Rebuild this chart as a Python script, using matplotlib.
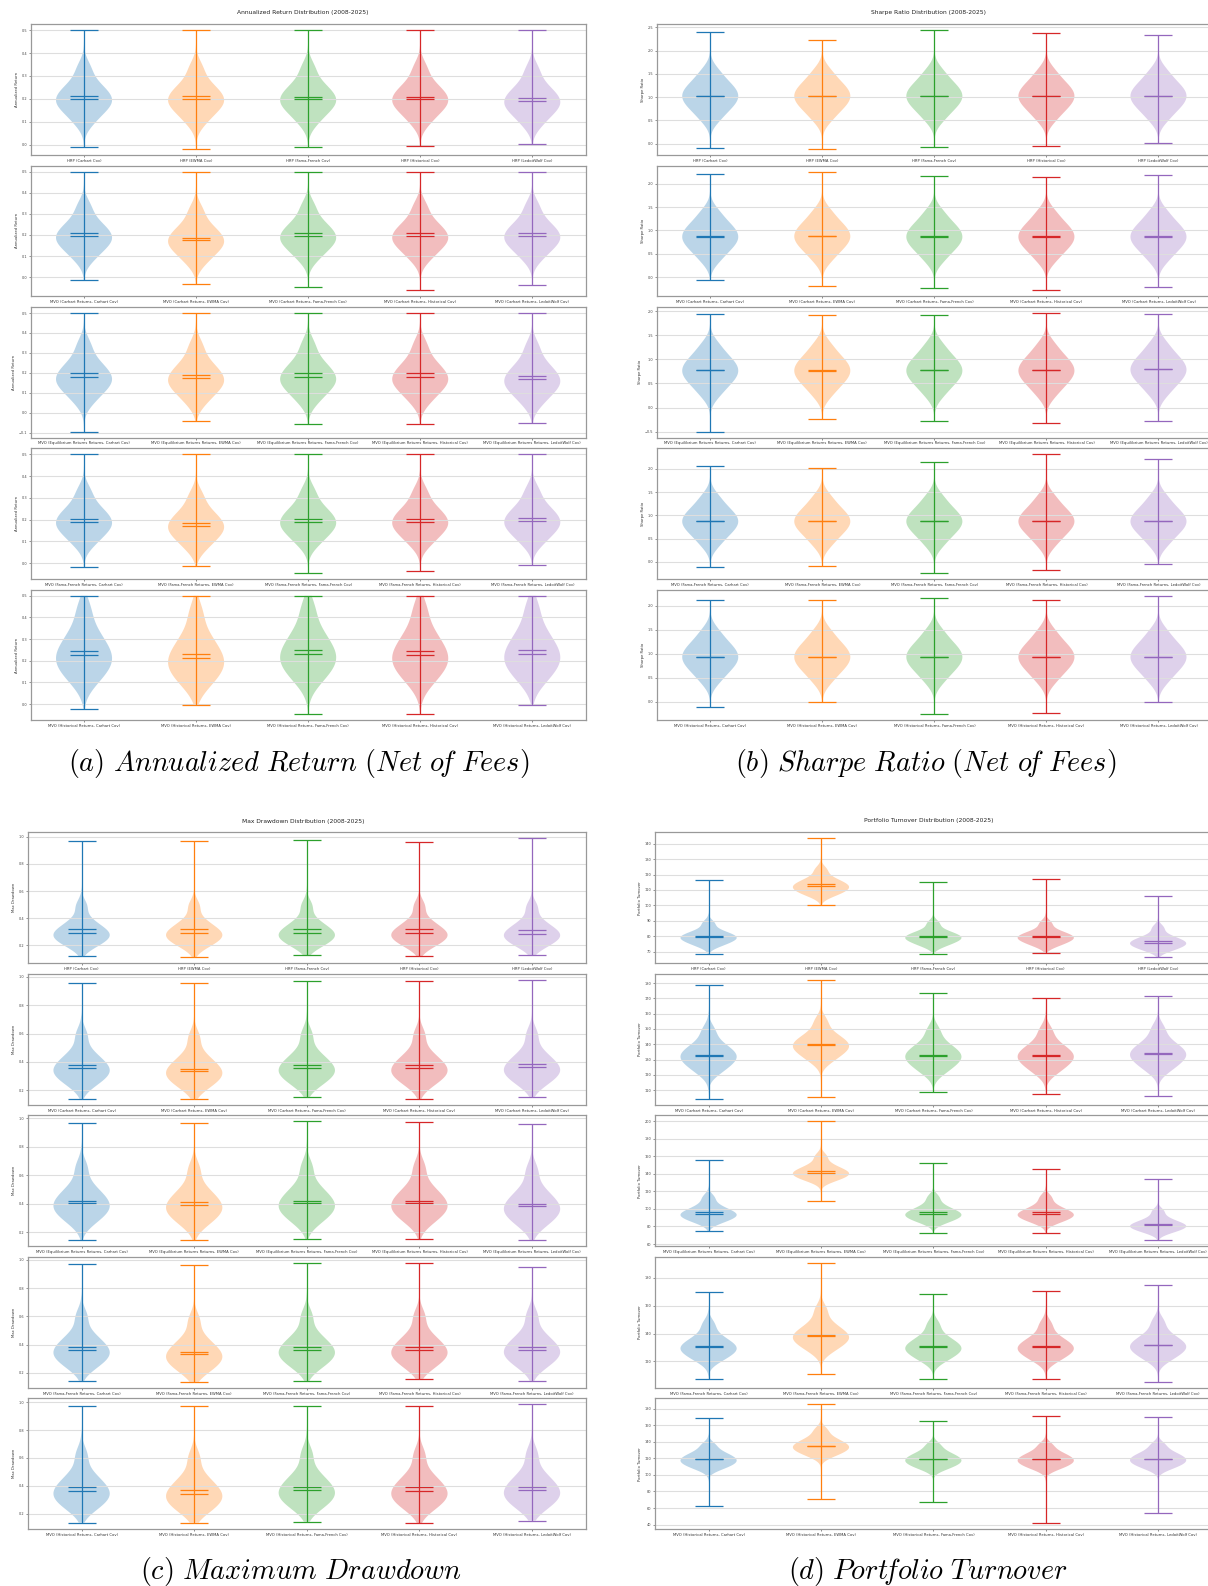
import numpy as np
import matplotlib
matplotlib.use('Agg')
import matplotlib.pyplot as plt
from matplotlib import mlab
from matplotlib.ticker import MultipleLocator

plt.rcParams['mathtext.fontset'] = 'cm'

# ---- labels ----
COV_NAMES = ['Carhart Cov', 'EWMA Cov', 'Fama-French Cov', 'Historical Cov', 'LedoitWolf Cov']
ROW_PREFIXES = ['HRP (', 'MVO (Carhart Returns, ', 'MVO (Equilibrium Returns Returns, ',
                'MVO (Fama-French Returns, ', 'MVO (Historical Returns, ']
COLORS = ['#1f77b4', '#ff7f0e', '#2ca02c', '#d62728', '#9467bd']

# ---- (a) annualized return ----
RET_MIN = [[-0.012, -0.019, -0.012, -0.006, 0.003],
           [-0.014, -0.033, -0.047, -0.062, -0.038],
           [-0.095, -0.044, -0.059, -0.059, -0.052],
           [-0.018, -0.014, -0.046, -0.037, -0.009],
           [-0.022, -0.003, -0.046, -0.048, -0.003]]
RET_MAX = [[0.5] * 5 for _ in range(5)]
RET_MEAN = [[0.212, 0.213, 0.210, 0.210, 0.203],
            [0.207, 0.185, 0.207, 0.207, 0.207],
            [0.197, 0.191, 0.197, 0.197, 0.182],
            [0.203, 0.183, 0.203, 0.203, 0.206],
            [0.246, 0.232, 0.248, 0.246, 0.252]]
RET_MEDIAN = [[0.199, 0.199, 0.199, 0.199, 0.190],
              [0.193, 0.176, 0.193, 0.193, 0.195],
              [0.178, 0.173, 0.178, 0.178, 0.168],
              [0.191, 0.172, 0.191, 0.191, 0.194],
              [0.228, 0.211, 0.232, 0.228, 0.232]]
# mid-decile values (5th, 15th, ..., 95th percentile)
RET_Q = [
    [[0.095, 0.135, 0.158, 0.176, 0.191, 0.207, 0.224, 0.245, 0.275, 0.335],
     [0.095, 0.135, 0.158, 0.176, 0.191, 0.207, 0.224, 0.245, 0.275, 0.335],
     [0.095, 0.135, 0.158, 0.176, 0.191, 0.207, 0.224, 0.245, 0.275, 0.335],
     [0.095, 0.135, 0.158, 0.176, 0.191, 0.207, 0.224, 0.245, 0.275, 0.335],
     [0.086, 0.126, 0.149, 0.167, 0.182, 0.198, 0.215, 0.236, 0.266, 0.326]],
    [[0.085, 0.125, 0.150, 0.168, 0.184, 0.201, 0.219, 0.241, 0.273, 0.335],
     [0.068, 0.108, 0.133, 0.151, 0.167, 0.184, 0.202, 0.224, 0.256, 0.318],
     [0.085, 0.125, 0.150, 0.168, 0.184, 0.201, 0.219, 0.241, 0.273, 0.335],
     [0.085, 0.125, 0.150, 0.168, 0.184, 0.201, 0.219, 0.241, 0.273, 0.335],
     [0.087, 0.127, 0.152, 0.170, 0.186, 0.203, 0.221, 0.243, 0.275, 0.337]],
    [[0.055, 0.100, 0.128, 0.148, 0.166, 0.185, 0.206, 0.232, 0.268, 0.340],
     [0.050, 0.095, 0.123, 0.143, 0.161, 0.180, 0.201, 0.227, 0.263, 0.335],
     [0.055, 0.100, 0.128, 0.148, 0.166, 0.185, 0.206, 0.232, 0.268, 0.340],
     [0.055, 0.100, 0.128, 0.148, 0.166, 0.185, 0.206, 0.232, 0.268, 0.340],
     [0.045, 0.090, 0.118, 0.138, 0.156, 0.175, 0.196, 0.222, 0.258, 0.330]],
    [[0.085, 0.123, 0.148, 0.166, 0.182, 0.199, 0.217, 0.239, 0.270, 0.330],
     [0.066, 0.104, 0.129, 0.147, 0.163, 0.180, 0.198, 0.220, 0.251, 0.311],
     [0.085, 0.123, 0.148, 0.166, 0.182, 0.199, 0.217, 0.239, 0.270, 0.330],
     [0.085, 0.123, 0.148, 0.166, 0.182, 0.199, 0.217, 0.239, 0.270, 0.330],
     [0.088, 0.126, 0.151, 0.169, 0.185, 0.202, 0.220, 0.242, 0.273, 0.333]],
    [[0.095, 0.140, 0.170, 0.193, 0.215, 0.240, 0.268, 0.302, 0.350, 0.440],
     [0.080, 0.124, 0.153, 0.176, 0.198, 0.222, 0.250, 0.284, 0.332, 0.425],
     [0.099, 0.144, 0.174, 0.197, 0.219, 0.244, 0.272, 0.306, 0.354, 0.444],
     [0.095, 0.140, 0.170, 0.193, 0.215, 0.240, 0.268, 0.302, 0.350, 0.440],
     [0.099, 0.144, 0.174, 0.197, 0.219, 0.244, 0.272, 0.306, 0.354, 0.444]],
]

# ---- (b) sharpe ratio ----
SR_MIN = [[-0.10, -0.11, -0.06, -0.04, 0.01],
          [-0.07, -0.185, -0.24, -0.28, -0.21],
          [-0.50, -0.23, -0.28, -0.33, -0.27],
          [-0.11, -0.09, -0.24, -0.17, -0.05],
          [-0.10, -0.01, -0.26, -0.23, -0.01]]
SR_MAX = [[2.40, 2.22, 2.44, 2.37, 2.33],
          [2.20, 2.26, 2.16, 2.14, 2.19],
          [1.94, 1.92, 1.92, 1.96, 1.94],
          [2.06, 2.02, 2.15, 2.31, 2.22],
          [2.12, 2.12, 2.17, 2.12, 2.21]]
SR_MEAN = [[1.036, 1.036, 1.036, 1.036, 1.036],
           [0.874, 0.886, 0.874, 0.874, 0.874],
           [0.776, 0.772, 0.776, 0.776, 0.796],
           [0.881, 0.886, 0.881, 0.881, 0.881],
           [0.946, 0.946, 0.946, 0.946, 0.946]]
SR_MEDIAN = [[1.030, 1.030, 1.030, 1.030, 1.030],
             [0.868, 0.880, 0.868, 0.868, 0.868],
             [0.770, 0.766, 0.770, 0.770, 0.790],
             [0.875, 0.880, 0.875, 0.875, 0.875],
             [0.940, 0.940, 0.940, 0.940, 0.940]]
SR_Q = [
    [[0.52, 0.71, 0.82, 0.91, 0.99, 1.07, 1.15, 1.24, 1.36, 1.56]] * 5,
    [[0.36, 0.55, 0.66, 0.75, 0.83, 0.91, 0.99, 1.08, 1.20, 1.40],
     [0.37, 0.56, 0.67, 0.76, 0.84, 0.92, 1.00, 1.09, 1.21, 1.41],
     [0.36, 0.55, 0.66, 0.75, 0.83, 0.91, 0.99, 1.08, 1.20, 1.40],
     [0.36, 0.55, 0.66, 0.75, 0.83, 0.91, 0.99, 1.08, 1.20, 1.40],
     [0.36, 0.55, 0.66, 0.75, 0.83, 0.91, 0.99, 1.08, 1.20, 1.40]],
    [[0.26, 0.45, 0.56, 0.65, 0.73, 0.81, 0.89, 0.98, 1.10, 1.30],
     [0.26, 0.45, 0.56, 0.65, 0.73, 0.81, 0.89, 0.98, 1.10, 1.30],
     [0.26, 0.45, 0.56, 0.65, 0.73, 0.81, 0.89, 0.98, 1.10, 1.30],
     [0.26, 0.45, 0.56, 0.65, 0.73, 0.81, 0.89, 0.98, 1.10, 1.30],
     [0.28, 0.47, 0.58, 0.67, 0.75, 0.83, 0.91, 1.00, 1.12, 1.32]],
    [[0.37, 0.56, 0.67, 0.76, 0.84, 0.91, 0.99, 1.08, 1.20, 1.40]] * 5,
    [[0.43, 0.62, 0.73, 0.82, 0.90, 0.98, 1.06, 1.15, 1.27, 1.47]] * 5,
]

# ---- (c) max drawdown ----
DD_MIN = [[0.119, 0.111, 0.126, 0.119, 0.126],
          [0.138, 0.138, 0.152, 0.138, 0.152],
          [0.143, 0.146, 0.153, 0.153, 0.146],
          [0.143, 0.136, 0.143, 0.157, 0.143],
          [0.135, 0.135, 0.142, 0.130, 0.150]]
DD_MAX = [[0.968, 0.968, 0.975, 0.966, 0.990],
          [0.957, 0.955, 0.970, 0.970, 0.980],
          [0.970, 0.965, 0.980, 0.972, 0.958],
          [0.971, 0.962, 0.979, 0.974, 0.950],
          [0.971, 0.971, 0.971, 0.971, 0.986]]
DD_MEAN = [[0.318, 0.318, 0.318, 0.318, 0.310],
           [0.376, 0.352, 0.376, 0.376, 0.382],
           [0.422, 0.412, 0.422, 0.422, 0.400],
           [0.381, 0.350, 0.381, 0.381, 0.386],
           [0.389, 0.373, 0.389, 0.389, 0.394]]
DD_MEDIAN = [[0.288, 0.288, 0.288, 0.288, 0.286],
             [0.357, 0.338, 0.357, 0.357, 0.360],
             [0.406, 0.393, 0.406, 0.406, 0.384],
             [0.360, 0.331, 0.360, 0.360, 0.364],
             [0.363, 0.344, 0.368, 0.363, 0.368]]
DD_Q = [
    [[0.185, 0.220, 0.243, 0.262, 0.279, 0.297, 0.318, 0.345, 0.390, 0.490],
     [0.185, 0.220, 0.243, 0.262, 0.279, 0.297, 0.318, 0.345, 0.390, 0.490],
     [0.185, 0.220, 0.243, 0.262, 0.279, 0.297, 0.318, 0.345, 0.390, 0.490],
     [0.185, 0.220, 0.243, 0.262, 0.279, 0.297, 0.318, 0.345, 0.390, 0.490],
     [0.184, 0.218, 0.241, 0.260, 0.277, 0.295, 0.315, 0.342, 0.386, 0.482]],
    [[0.228, 0.272, 0.300, 0.322, 0.343, 0.366, 0.392, 0.425, 0.475, 0.590],
     [0.209, 0.253, 0.281, 0.303, 0.324, 0.347, 0.373, 0.406, 0.456, 0.571],
     [0.228, 0.272, 0.300, 0.322, 0.343, 0.366, 0.392, 0.425, 0.475, 0.590],
     [0.228, 0.272, 0.300, 0.322, 0.343, 0.366, 0.392, 0.425, 0.475, 0.590],
     [0.231, 0.275, 0.303, 0.325, 0.346, 0.369, 0.395, 0.428, 0.478, 0.593]],
    [[0.262, 0.310, 0.341, 0.366, 0.390, 0.416, 0.445, 0.480, 0.535, 0.655],
     [0.249, 0.297, 0.328, 0.353, 0.377, 0.403, 0.432, 0.467, 0.522, 0.642],
     [0.262, 0.310, 0.341, 0.366, 0.390, 0.416, 0.445, 0.480, 0.535, 0.655],
     [0.262, 0.310, 0.341, 0.366, 0.390, 0.416, 0.445, 0.480, 0.535, 0.655],
     [0.240, 0.288, 0.319, 0.344, 0.368, 0.394, 0.423, 0.458, 0.513, 0.633]],
    [[0.228, 0.273, 0.302, 0.325, 0.347, 0.371, 0.398, 0.432, 0.483, 0.600],
     [0.199, 0.244, 0.273, 0.296, 0.318, 0.342, 0.369, 0.403, 0.454, 0.571],
     [0.228, 0.273, 0.302, 0.325, 0.347, 0.371, 0.398, 0.432, 0.483, 0.600],
     [0.228, 0.273, 0.302, 0.325, 0.347, 0.371, 0.398, 0.432, 0.483, 0.600],
     [0.232, 0.277, 0.306, 0.329, 0.351, 0.375, 0.402, 0.436, 0.487, 0.604]],
    [[0.225, 0.270, 0.300, 0.325, 0.350, 0.376, 0.405, 0.442, 0.497, 0.622],
     [0.206, 0.251, 0.281, 0.306, 0.331, 0.357, 0.386, 0.423, 0.478, 0.603],
     [0.230, 0.275, 0.305, 0.330, 0.355, 0.381, 0.410, 0.447, 0.502, 0.627],
     [0.225, 0.270, 0.300, 0.325, 0.350, 0.376, 0.405, 0.442, 0.497, 0.622],
     [0.230, 0.275, 0.305, 0.330, 0.355, 0.381, 0.410, 0.447, 0.502, 0.627]],
]

# ---- (d) portfolio turnover ----
TO_MIN = [[68.7, 100.0, 68.5, 68.9, 66.4],
          [104.3, 105.6, 109.1, 107.4, 106.3],
          [74.5, 109.3, 72.2, 73.0, 64.2],
          [107.0, 110.8, 107.0, 107.0, 105.3],
          [63.0, 71.5, 67.9, 41.6, 54.5]]
TO_MAX = [[116.6, 143.5, 114.9, 116.8, 105.8],
          [178.9, 182.2, 173.6, 170.1, 171.6],
          [156.0, 200.0, 152.6, 145.0, 134.2],
          [169.8, 190.8, 168.3, 170.3, 174.9],
          [169.1, 185.2, 165.1, 170.7, 169.5]]
TO_MEAN = [[80.2, 113.7, 80.4, 80.2, 77.2],
           [133.1, 139.9, 133.1, 133.1, 134.2],
           [96.3, 143.4, 96.3, 96.3, 82.9],
           [130.7, 138.6, 130.7, 130.7, 131.8],
           [118.9, 135.0, 118.9, 118.9, 119.3]]
TO_MEDIAN = [[79.3, 112.4, 79.3, 79.3, 75.9],
             [132.5, 139.5, 132.5, 132.5, 133.8],
             [94.4, 141.5, 94.4, 94.4, 81.3],
             [130.2, 138.2, 130.2, 130.2, 131.4],
             [118.6, 134.7, 118.6, 118.6, 119.0]]
TO_Q = [
    [[73.5, 75.5, 76.8, 78.0, 79.0, 79.8, 80.8, 82.0, 84.0, 88.5],
     [106.0, 108.0, 109.5, 110.8, 111.9, 113.0, 114.2, 115.7, 118.0, 123.0],
     [73.5, 75.5, 76.8, 78.0, 79.0, 79.8, 80.8, 82.0, 84.0, 88.5],
     [73.5, 75.5, 76.8, 78.0, 79.0, 79.8, 80.8, 82.0, 84.0, 88.5],
     [70.5, 72.3, 73.5, 74.6, 75.5, 76.4, 77.4, 78.7, 80.8, 85.5]],
    [[121.0, 125.0, 127.5, 129.8, 131.7, 133.4, 135.3, 137.8, 141.5, 149.0],
     [128.5, 132.5, 134.8, 136.9, 138.7, 140.3, 142.0, 144.3, 147.8, 155.0],
     [121.0, 125.0, 127.5, 129.8, 131.7, 133.4, 135.3, 137.8, 141.5, 149.0],
     [121.0, 125.0, 127.5, 129.8, 131.7, 133.4, 135.3, 137.8, 141.5, 149.0],
     [122.3, 126.3, 128.8, 131.1, 133.0, 134.7, 136.6, 139.1, 142.8, 150.3]],
    [[84.0, 87.5, 89.8, 91.8, 93.6, 95.3, 97.3, 100.0, 104.5, 113.0],
     [131.5, 134.8, 137.0, 138.9, 140.7, 142.4, 144.4, 147.0, 151.5, 160.0],
     [84.0, 87.5, 89.8, 91.8, 93.6, 95.3, 97.3, 100.0, 104.5, 113.0],
     [84.0, 87.5, 89.8, 91.8, 93.6, 95.3, 97.3, 100.0, 104.5, 113.0],
     [72.5, 75.5, 77.5, 79.2, 80.6, 82.0, 83.7, 86.0, 90.0, 97.5]],
    [[120.0, 123.5, 125.7, 127.7, 129.4, 131.0, 132.8, 135.2, 139.0, 146.5],
     [127.0, 131.0, 133.4, 135.5, 137.4, 139.1, 141.1, 143.8, 148.3, 157.0],
     [120.0, 123.5, 125.7, 127.7, 129.4, 131.0, 132.8, 135.2, 139.0, 146.5],
     [120.0, 123.5, 125.7, 127.7, 129.4, 131.0, 132.8, 135.2, 139.0, 146.5],
     [120.6, 124.3, 126.6, 128.7, 130.6, 132.2, 134.1, 136.6, 140.6, 148.3]],
    [[106.5, 110.5, 113.0, 115.2, 117.5, 119.6, 121.8, 124.5, 128.5, 136.0],
     [122.0, 126.5, 129.0, 131.3, 133.6, 135.8, 138.0, 141.0, 145.5, 154.0],
     [106.5, 110.5, 113.0, 115.2, 117.5, 119.6, 121.8, 124.5, 128.5, 136.0],
     [106.5, 110.5, 113.0, 115.2, 117.5, 119.6, 121.8, 124.5, 128.5, 136.0],
     [106.9, 110.9, 113.4, 115.6, 117.9, 120.0, 122.2, 124.9, 128.9, 136.4]],
]

W, H = 1208, 1586
fig = plt.figure(figsize=(W / 100, H / 100), dpi=100)


def px_axes(left, top, width, height):
    return fig.add_axes([left / W, 1 - (top + height) / H, width / W, height / H])


def violin_row(ax, mins, maxs, means, medians, quants):
    stats = []
    for lo, hi, mu, med, q in zip(mins, maxs, means, medians, quants):
        coords = np.linspace(lo, hi, 300)
        kde = mlab.GaussianKDE(np.asarray(q), 0.55)
        stats.append(dict(coords=coords, vals=kde.evaluate(coords), mean=mu,
                          median=med, min=lo, max=hi, quantiles=[]))
    parts = ax.violin(stats, positions=range(1, 6), widths=0.5,
                      showmeans=True, showextrema=True, showmedians=True)
    for body, c in zip(parts['bodies'], COLORS):
        body.set_facecolor(c)
        body.set_edgecolor('none')
        body.set_alpha(0.3)
    for key in ['cbars', 'cmins', 'cmaxes', 'cmeans', 'cmedians']:
        parts[key].set_color(COLORS)
        parts[key].set_linewidth(0.9)


def draw_panel(left, width, top0, height, step, mins, maxs, means, medians, quants,
               ylabel, locs, title, title_x, title_y, caption, cap_x, cap_y):
    for r in range(5):
        ax = px_axes(left, top0 + r * step, width, height)
        violin_row(ax, mins[r], maxs[r], means[r], medians[r], quants[r])
        ax.set_xticks(range(1, 6))
        ax.set_xticklabels([ROW_PREFIXES[r] + c + ')' for c in COV_NAMES])
        ax.yaxis.set_major_locator(MultipleLocator(locs[r]))
        ax.set_ylabel(ylabel, fontsize=2.7, labelpad=2, color='#333333')
        ax.tick_params(axis='x', labelsize=2.7, length=1.5, width=0.4, pad=1.2, colors='#333333')
        ax.tick_params(axis='y', labelsize=2.5, length=1.5, width=0.4, pad=1, colors='#444444')
        ax.yaxis.grid(True, color='#dedede', linewidth=0.8)
        for sp in ax.spines.values():
            sp.set_edgecolor('#999999')
            sp.set_linewidth(0.9)
    fig.text(title_x / W, 1 - title_y / H, title, ha='center', va='center',
             fontsize=4.3, color='#222222')
    fig.text(cap_x / W, 1 - cap_y / H, caption, ha='center', va='center', fontsize=20.3)


draw_panel(30.8, 554.7, 24.3, 130.5, 141.4, RET_MIN, RET_MAX, RET_MEAN, RET_MEDIAN, RET_Q,
           'Annualized Return', [0.1] * 5, 'Annualized Return Distribution (2008-2025)', 303, 12.7,
           r'$\mathit{(a)\ Annualized\ Return\ (Net\ o\!f\ Fees)}$', 299, 763)
draw_panel(657, 554.7, 24.3, 130.5, 141.4, SR_MIN, SR_MAX, SR_MEAN, SR_MEDIAN, SR_Q,
           'Sharpe Ratio', [0.5] * 5, 'Sharpe Ratio Distribution (2008-2025)', 928.7, 12.7,
           r'$\mathit{(b)\ Sharpe\ Ratio\ (Net\ o\!f\ Fees)}$', 925.6, 763)
draw_panel(28.1, 557.4, 832.3, 131, 141.5, DD_MIN, DD_MAX, DD_MEAN, DD_MEDIAN, DD_Q,
           'Max Drawdown', [0.2] * 5, 'Max Drawdown Distribution (2008-2025)', 303, 821,
           r'$\mathit{(c)\ Maximum\ Drawdown}$', 301, 1571.7)
draw_panel(655.2, 556.3, 832.3, 131, 141.5, TO_MIN, TO_MAX, TO_MEAN, TO_MEDIAN, TO_Q,
           'Portfolio Turnover', [10, 10, 20, 20, 20], 'Portfolio Turnover Distribution (2008-2025)',
           928.7, 820.7, r'$\mathit{(d)\ Port\!folio\ Turnover}$', 927.6, 1571.7)

fig.savefig('out.png', dpi=100)
plt.close(fig)
